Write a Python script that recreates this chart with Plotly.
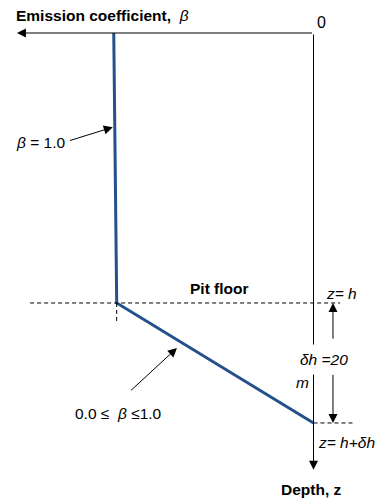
import plotly.graph_objects as go

# profile of the emission coefficient against depth (m)
pit_depth = 45.0          # h
delta_h = 20.0            # dh below the pit floor
beta_vals = [1.015, 1.0, 0.0]
depth_vals = [0.0, pit_depth, pit_depth + delta_h]

W, H = 375, 499
x_range = [1.593, -0.3125]   # beta axis runs right to left
y_range = [77.67, -5.5]      # depth axis runs downwards

FONT = "Liberation Sans, Arial, sans-serif"
BLUE = "#24508C"
FS = 15.5


def px(x):
    return x / W


def py(y):
    return 1 - y / H


fig = go.Figure()

fig.add_trace(go.Scatter(
    x=beta_vals, y=depth_vals,
    mode="lines",
    line=dict(color=BLUE, width=3),
    hoverinfo="x+y",
    showlegend=False,
))

# dashed guide lines
dash = "4px,3px"
fig.add_shape(type="line", x0=1.44, x1=-0.135, y0=pit_depth, y1=pit_depth,
              line=dict(color="black", width=1, dash=dash))
fig.add_shape(type="line", x0=beta_vals[1], x1=beta_vals[1], y0=pit_depth, y1=pit_depth + 3.3,
              line=dict(color="black", width=1, dash=dash))
fig.add_shape(type="line", x0=0, x1=-0.211, y0=pit_depth + delta_h, y1=pit_depth + delta_h,
              line=dict(color="black", width=1, dash=dash))

arrow = dict(showarrow=True, arrowhead=2, arrowsize=1.8, arrowwidth=1, arrowcolor="black",
             axref="x", ayref="y", text="")

# axes drawn as arrows
fig.add_annotation(x=1.507, y=0, ax=0, ay=0, **arrow)
fig.add_annotation(x=0, y=72.8, ax=0, ay=0, **arrow)

# dh dimension arrows
fig.add_annotation(x=-0.099, y=pit_depth, ax=-0.099, ay=51.2, **arrow)
fig.add_annotation(x=-0.099, y=pit_depth + delta_h, ax=-0.099, ay=56.7, **arrow)

# pointer arrows
fig.add_annotation(x=1.02, y=15.7, ax=1.245, ay=18.0, **arrow)
fig.add_annotation(x=0.694, y=52.5, ax=0.935, ay=59.8, **arrow)


def label(text, x, y, size=FS, bold=False, anchor="center", bg=None, pad=1):
    fig.add_annotation(
        x=px(x), y=py(y), xref="paper", yref="paper",
        text="<b>%s</b>" % text if bold else text,
        showarrow=False, xanchor=anchor, yanchor="middle",
        font=dict(family=FONT, size=size, color="black"),
        bgcolor=bg, borderpad=pad,
    )


label("<b>Emission coefficient,</b>  <i>β</i>", 14, 15, anchor="left")
label("0", 321, 22, size=16)
label("<i>β</i> = 1.0", 14, 143, anchor="left")
label("Pit floor", 219, 288, bold=True)
label("<i>z= h</i>", 324, 293, anchor="left")
label("<i>δh =20</i>", 293, 359, anchor="left", bg="white", pad=6)
label("<i>m</i>", 294, 382, anchor="left")
label("0.0 ≤  <i>β</i> ≤1.0", 118, 413)
label("<i>z= h+δh</i>", 316, 442, anchor="left")
label("Depth, z", 311, 489, bold=True)

fig.update_layout(
    width=W, height=H,
    margin=dict(l=0, r=0, t=0, b=0),
    paper_bgcolor="white", plot_bgcolor="white",
    xaxis=dict(range=x_range, visible=False, fixedrange=True),
    yaxis=dict(range=y_range, visible=False, fixedrange=True),
    showlegend=False,
)

fig.write_html("out.html", config={"displayModeBar": False},
               post_script="document.body.style.margin='0';")
